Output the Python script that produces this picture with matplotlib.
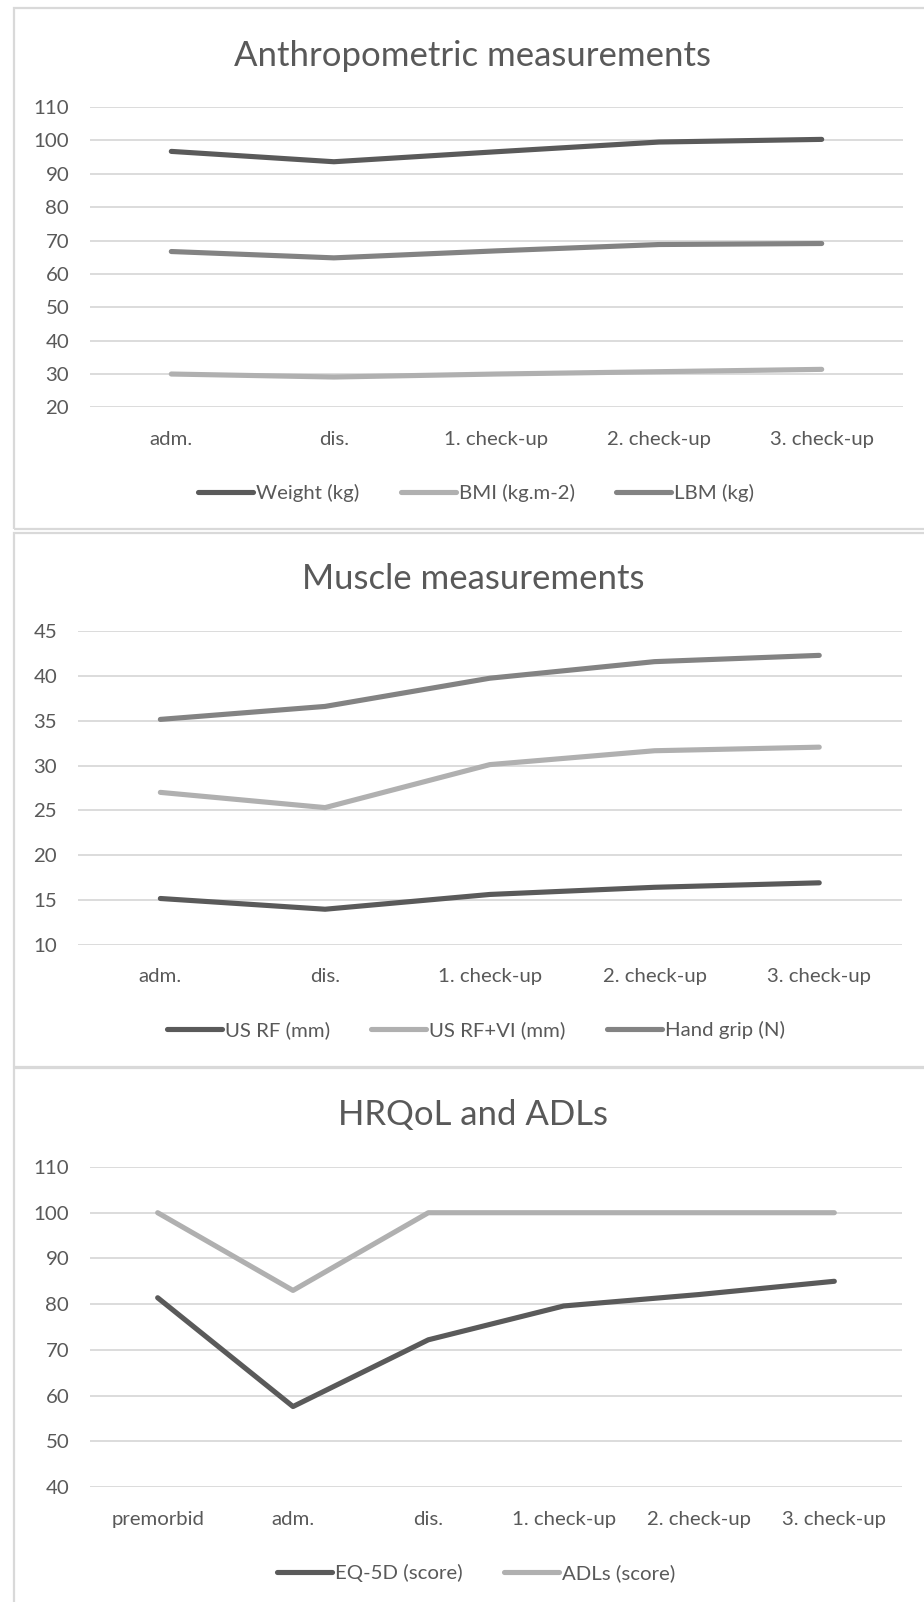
import matplotlib
matplotlib.use("Agg")
import matplotlib.pyplot as plt
from matplotlib.patches import Rectangle

# figure size in pixels (dpi 100)
W, H = 924, 1602

# --- data ---
visits = ["adm.", "dis.", "1. check-up", "2. check-up", "3. check-up"]
weight = [96.7, 93.6, 96.6, 99.5, 100.3]
bmi = [30.0, 29.1, 30.0, 30.7, 31.4]
lbm = [66.7, 64.8, 66.9, 68.8, 69.1]

us_rf = [15.15, 13.95, 15.6, 16.4, 16.9]
us_rf_vi = [27.0, 25.3, 30.1, 31.65, 32.05]
hand_grip = [35.15, 36.6, 39.75, 41.6, 42.3]

visits_qol = ["premorbid", "adm.", "dis.", "1. check-up", "2. check-up", "3. check-up"]
eq5d = [81.4, 57.6, 72.2, 79.6, 82.1, 85.0]
adls = [100, 83, 100, 100, 100, 100]

DARK = "#5a5a5a"
LIGHT = "#b0b0b0"
MID = "#838383"
TEXT = "#595959"
GRID = "#d9d9d9"

plt.rcParams["font.family"] = ["Lato", "DejaVu Sans"]


def fx(px):
    return px / W


def fy(py):
    return 1 - py / H


def panel_box(fig, top, bottom):
    # light frame around each chart area (right edge runs off the figure)
    fig.add_artist(Rectangle((fx(14), fy(bottom)), fx(940 - 14), (bottom - top) / H,
                             transform=fig.transFigure, fill=False,
                             edgecolor=GRID, linewidth=1.6))


def line_chart(fig, rect_px, cats, series, ylim, ystep, title, title_y, legend_y):
    left, top, right, bottom = rect_px
    ax = fig.add_axes([fx(left), fy(bottom), (right - left) / W, (bottom - top) / H])
    x = list(range(len(cats)))
    handles = []
    for label, vals, color in series:
        ln, = ax.plot(x, vals, color=color, lw=3.7, solid_capstyle="round",
                      solid_joinstyle="round", label=label, zorder=3)
        handles.append(ln)
    ax.set_xlim(-0.5, len(cats) - 0.5)
    ax.set_ylim(*ylim)
    ax.set_yticks(list(range(ylim[0], ylim[1] + 1, ystep)))
    ax.set_xticks(x)
    ax.set_xticklabels(cats)
    ax.tick_params(length=0, labelsize=14.7, colors=TEXT)
    ax.tick_params(axis="y", pad=15)
    ax.tick_params(axis="x", pad=17)
    ax.grid(axis="y", color=GRID, lw=1.3, zorder=0)
    for s in ax.spines.values():
        s.set_visible(False)

    fig.text(fx(473), fy(title_y), title, ha="center", va="center",
             fontsize=25, color=TEXT)
    fig.legend(handles=handles, loc="center", bbox_to_anchor=(fx(476), fy(legend_y)),
               ncol=len(handles), frameon=False, fontsize=14.7, labelcolor=TEXT,
               handlelength=2.7, handletextpad=0.15, columnspacing=2.0)
    return ax


fig = plt.figure(figsize=(W / 100, H / 100), dpi=100)
fig.patch.set_facecolor("white")

panel_box(fig, 8, 529)
panel_box(fig, 533, 1067)
panel_box(fig, 1068, 1640)

line_chart(fig, (90, 107, 903, 407.4), visits,
           [("Weight (kg)", weight, DARK), ("BMI (kg.m-2)", bmi, LIGHT), ("LBM (kg)", lbm, MID)],
           (20, 110), 10, "Anthropometric measurements", 55.5, 493)

line_chart(fig, (78, 631.2, 901.6, 944.6), visits,
           [("US RF (mm)", us_rf, DARK), ("US RF+VI (mm)", us_rf_vi, LIGHT), ("Hand grip (N)", hand_grip, MID)],
           (10, 45), 5, "Muscle measurements", 579, 1030)

line_chart(fig, (90, 1167, 902, 1487), visits_qol,
           [("EQ-5D (score)", eq5d, DARK), ("ADLs (score)", adls, LIGHT)],
           (40, 110), 10, "HRQoL and ADLs", 1115.5, 1573)

fig.savefig("out.png", dpi=100, facecolor="white")
